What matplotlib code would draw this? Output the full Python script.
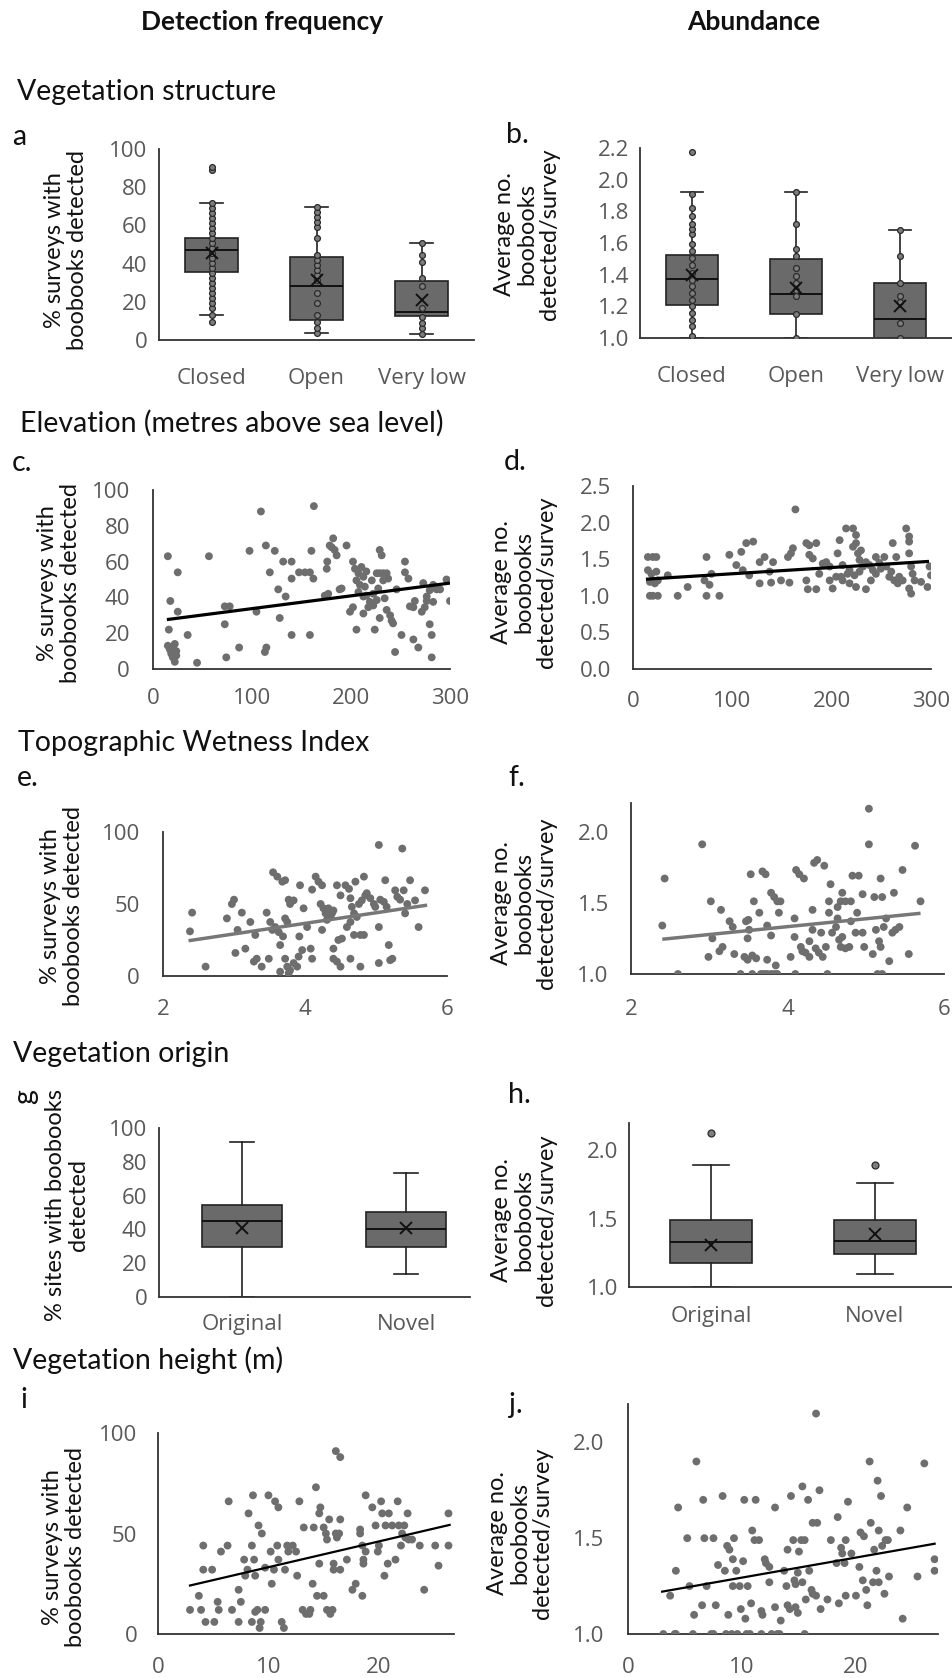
import matplotlib.pyplot as plt
import numpy as np

plt.rcParams['font.family'] = 'Open Sans'

W, H = 952, 1678
BOX_COL = '#6a6a6a'
DOT_COL = '#6e6e6e'
AXIS_COL = '#333333'
TICK_COL = '#595959'
LABEL_FONT = 'Lato'

# ---- a / b : vegetation structure box plots ----
struct_cats = ['Closed', 'Open', 'Very low']
a_q1 = [35.8, 10.5, 12.6]
a_med = [47.0, 28.5, 14.5]
a_q3 = [53.2, 43.6, 31.1]
a_mean = [45.7, 31.4, 20.9]
a_lo = [13.0, 3.5, 3.1]
a_hi = [71.9, 69.8, 50.6]
a_pts_closed = [9.6, 13, 16.6, 19.2, 21.8, 24.4, 27.0, 29.7, 32.3, 34.9, 37.5, 40.1, 42.8,
                45.4, 48.0, 50.6, 53.2, 55.8, 58.5, 61.1, 63.7, 66.3, 68.9, 71.6, 88.8, 90.6]
a_pts_open = [3.5, 6.1, 9.6, 13.1, 19.2, 24.4, 31.4, 34.0, 36.6, 39.3, 41.9, 44.5, 53.2,
              59.3, 61.9, 64.6, 67.2, 69.8]
a_pts_vlow = [3.1, 6.1, 8.7, 12.2, 16.6, 28.3, 32.3, 41.0, 44.5, 50.6]

b_q1 = [1.21, 1.154, 1.0]
b_med = [1.375, 1.28, 1.122]
b_q3 = [1.527, 1.5, 1.348]
b_mean = [1.40, 1.316, 1.2]
b_lo = [1.0, 1.0, 1.0]
b_hi = [1.92, 1.92, 1.685]
b_pts_closed = [1.01, 1.078, 1.116, 1.158, 1.2, 1.242, 1.285, 1.327, 1.369, 1.411, 1.464,
                1.506, 1.548, 1.591, 1.654, 1.69, 1.723, 1.77, 1.823, 1.907, 2.175]
b_pts_open = [1.0, 1.154, 1.263, 1.306, 1.348, 1.394, 1.439, 1.517, 1.565, 1.72, 1.92]
b_pts_vlow = [1.0, 1.095, 1.225, 1.263, 1.348, 1.517, 1.685]

# ---- c / d : elevation ----
c_x = [15, 17.5, 25, 16, 25, 35, 15, 17, 18.5, 20,
       22, 23.5, 20, 22, 18.5, 23.5, 44.5, 56.5, 72.5, 77.5,
       72.5, 74, 87, 97.5, 104.5, 109, 114, 118, 114.5, 113,
       123, 126.5, 128, 131.5, 140, 134, 140, 140, 147.5, 153.5,
       158.5, 160, 162, 158.5, 162.5, 173.5, 177, 175.5, 176, 180.5,
       182, 178.5, 183.5, 185.5, 188.5, 195.5, 199, 202, 204, 207.5,
       205.5, 205.5, 207.5, 209, 212.5, 214, 215.5, 219, 217.5, 222.5,
       226, 224, 226, 229, 232.5, 236, 237.5, 231, 229, 229,
       236, 239.5, 242.5, 241, 244.5, 246, 251, 254.5, 254.5, 258,
       263, 259.5, 264.5, 263, 268, 271.5, 274.5, 276.5, 279.5, 283,
       286.5, 290, 283, 279.5, 281.5, 281.5, 296.5, 300, 273, 276.5,
       210.5, 215.5, 221, 212.5, 222.5, 232.5, 227.5, 202, 212.5, 234, 190.5]
c_y = [63, 38, 54, 22, 32, 19, 13, 11, 9.5, 12,
       14, 10, 6.5, 4, 8.5, 7.5, 3.5, 63, 35, 35,
       25, 6.5, 12, 66, 32, 88, 69, 54, 12, 9.5,
       66, 44.5, 28.5, 60, 60, 40.5, 50.5, 19, 54, 54,
       54, 66, 50.5, 19, 91, 41, 42, 56, 60, 68,
       73, 69, 66.5, 63.5, 44.5, 69, 32, 60, 56, 53.5,
       49.5, 22, 43, 47, 51.5, 46, 41, 37.5, 34.5, 35.5,
       38.5, 22, 53.5, 53.5, 53.5, 53.5, 50.5, 63.5, 66.5, 28.5,
       33, 30, 25.5, 27, 9.5, 44.5, 19, 60, 54, 50.5,
       34.5, 35, 38, 16.5, 12, 32, 34.5, 38, 44, 47,
       44.5, 44.5, 37.5, 25, 19, 6.5, 50, 38, 48, 40.5,
       57, 54.5, 49.5, 40.5, 42, 49.5, 45, 34.5, 31, 39.5, 45]
c_trend_x = [14, 300]
c_trend_y = [27.6, 48.0]

d_x = [15, 20, 23.5, 15, 18.5, 23.5, 17, 22, 25, 17,
       20, 25, 35, 45, 55, 74, 72, 77, 79, 74,
       87, 97, 104, 109, 114, 121, 110.5, 117, 127.5, 132.5,
       127.5, 137.5, 141, 139, 149, 156, 159, 161, 157.5, 163.5,
       174.5, 177.5, 184.5, 177.5, 181, 174.5, 176, 184.5, 187.5, 191,
       194.5, 198, 201, 208, 206, 209.5, 214.5, 221.5, 211, 216,
       218, 221.5, 224.5, 224.5, 226.5, 228, 229.5, 224.5, 234.5, 231.5,
       234.5, 238, 241.5, 239.5, 244.5, 248, 253, 255, 261.5, 265,
       268, 271.5, 275, 278, 278, 278, 280, 281.5, 283.5, 278,
       280, 290, 296.5, 298.5, 300, 211, 218, 223, 228, 244.5,
       249.5, 260, 263, 198, 204.5, 258, 266.5]
d_y = [1.53, 1.53, 1.53, 1.35, 1.30, 1.33, 1.19, 1.17, 1.21, 1.0,
       1.0, 1.0, 1.28, 1.0, 1.12, 1.53, 1.21, 1.15, 1.30, 1.0,
       1.0, 1.56, 1.42, 1.60, 1.72, 1.74, 1.35, 1.28, 1.46, 1.53,
       1.17, 1.33, 1.46, 1.18, 1.21, 1.53, 1.58, 1.65, 1.18, 2.18,
       1.72, 1.69, 1.72, 1.56, 1.51, 1.21, 1.09, 1.09, 1.30, 1.44,
       1.46, 1.40, 1.10, 1.76, 1.58, 1.26, 1.92, 1.92, 1.21, 1.30,
       1.17, 1.67, 1.72, 1.83, 1.58, 1.49, 1.62, 1.12, 1.09, 1.40,
       1.46, 1.42, 1.35, 1.21, 1.53, 1.45, 1.53, 1.40, 1.72, 1.53,
       1.26, 1.21, 1.92, 1.81, 1.74, 1.58, 1.40, 1.30, 1.21, 1.10,
       1.03, 1.19, 1.12, 1.40, 1.28, 1.42, 1.35, 1.28, 1.33, 1.30,
       1.37, 1.33, 1.21, 1.21, 1.26, 1.26, 1.17]
d_trend_x = [13, 298]
d_trend_y = [1.227, 1.47]

# ---- e / f : topographic wetness index ----
e_x = [2.41, 2.38, 2.60, 2.90, 3.00, 2.97, 3.05, 3.02, 3.16, 3.11,
       3.23, 3.30, 3.28, 3.32, 3.39, 3.46, 3.51, 3.49, 3.54, 3.55,
       3.61, 3.68, 3.72, 3.58, 3.63, 3.69, 3.72, 3.75, 3.77, 3.79,
       3.84, 3.65, 3.72, 3.75, 3.79, 3.65, 3.77, 3.84, 3.89, 3.91,
       3.96, 3.92, 3.93, 3.98, 4.03, 4.10, 4.15, 4.19, 4.24, 4.22,
       4.26, 4.29, 4.31, 4.33, 4.38, 4.08, 4.10, 4.24, 4.36, 4.40,
       4.40, 4.40, 4.45, 4.50, 4.47, 4.52, 4.45, 4.50, 4.57, 4.62,
       4.64, 4.66, 4.69, 4.71, 4.83, 4.59, 4.64, 4.69, 4.73, 4.64,
       4.78, 4.76, 4.80, 4.85, 4.87, 4.92, 4.97, 4.99, 4.78, 4.83,
       5.04, 5.04, 5.04, 5.18, 5.23, 5.20, 5.06, 5.11, 5.15, 5.13,
       5.27, 5.30, 5.34, 5.39, 5.41, 5.44, 5.37, 5.48, 5.55, 5.60, 5.69]
e_y = [44, 31, 6.5, 40, 53, 50, 32, 16, 19, 44,
       37.5, 28.5, 10, 12, 6.5, 44, 37.5, 12, 32, 72,
       69, 65.5, 66.5, 34, 30.5, 27.5, 40, 37.5, 53, 50,
       52.5, 21.5, 12, 6.5, 4, 3, 2, 9, 6.5, 13.5,
       18, 27.5, 63, 47, 34, 60, 69, 65.5, 63, 50,
       47, 43.5, 39, 47, 43.5, 19, 12, 32, 41, 45.5,
       19, 12, 10, 6.5, 25, 26, 63, 56, 63, 60.5,
       54, 48, 43.5, 65.5, 69, 34, 37.5, 28.5, 41, 12,
       6.5, 50, 52.5, 56, 57.5, 54, 50, 48, 28.5, 28.5,
       91, 34, 9, 21.5, 12, 11, 53, 51.5, 48, 66.5,
       59.5, 55, 53, 59.5, 43.5, 50, 88.5, 66.5, 52.5, 34, 59.5]
e_trend_x = [2.36, 5.72]
e_trend_y = [24.5, 49.2]

f_x = [2.43, 2.40, 2.60, 2.91, 3.02, 3.15, 2.99, 3.17, 3.13, 3.04,
       3.26, 3.30, 3.32, 3.40, 3.47, 3.50, 3.49, 3.51, 3.53, 3.55,
       3.45, 3.49, 3.55, 3.60, 3.57, 3.64, 3.68, 3.72, 3.66, 3.70,
       3.74, 3.79, 3.83, 3.87, 3.74, 3.85, 3.74, 3.79, 3.79, 3.83,
       3.87, 3.91, 3.89, 4.04, 4.09, 4.09, 4.10, 4.11, 4.15, 4.21,
       4.17, 4.19, 4.23, 4.28, 4.32, 4.28, 4.32, 4.34, 4.38, 4.47,
       4.36, 4.40, 4.45, 4.43, 4.49, 4.51, 4.53, 4.53, 4.55, 4.57,
       4.62, 4.64, 4.66, 4.68, 4.70, 4.74, 4.79, 4.64, 4.68, 4.70,
       4.74, 4.81, 4.83, 4.91, 4.89, 4.96, 4.81, 4.87, 4.96, 4.98,
       5.04, 5.04, 5.09, 5.11, 5.13, 5.17, 5.19, 5.23, 5.21, 5.19,
       5.15, 5.21, 5.30, 5.26, 5.36, 5.34, 5.38, 5.43, 5.47, 5.55, 5.63, 5.70]
f_y = [1.67, 1.34, 1.0, 1.91, 1.51, 1.45, 1.12, 1.19, 1.16, 1.25,
       1.37, 1.33, 1.14, 1.0, 1.37, 1.38, 1.25, 1.31, 1.70, 1.0,
       1.12, 1.10, 1.13, 1.11, 1.51, 1.43, 1.72, 1.70, 1.0, 1.0,
       1.0, 1.0, 1.0, 1.0, 1.10, 1.06, 1.34, 1.27, 1.57, 1.54,
       1.51, 1.51, 1.43, 1.12, 1.39, 1.26, 1.0, 1.73, 1.70, 1.67,
       1.19, 1.16, 1.15, 1.12, 1.31, 1.23, 1.45, 1.78, 1.80, 1.76,
       1.18, 1.15, 1.12, 1.29, 1.19, 1.0, 1.51, 1.43, 1.63, 1.29,
       1.33, 1.39, 1.24, 1.19, 1.26, 1.18, 1.19, 1.47, 1.51, 1.57,
       1.51, 1.51, 1.69, 1.69, 1.43, 1.56, 1.37, 1.29, 1.29, 1.19,
       2.16, 1.91, 1.14, 1.54, 1.31, 1.23, 1.19, 1.33, 1.54, 1.67,
       1.0, 1.0, 1.09, 1.39, 1.57, 1.29, 1.31, 1.33, 1.73, 1.14, 1.90, 1.51]
f_trend_x = [2.40, 5.70]
f_trend_y = [1.244, 1.426]

# ---- g / h : vegetation origin box plots ----
origin_cats = ['Original', 'Novel']
g_q1 = [29.4, 29.8]
g_med = [45.1, 40.2]
g_q3 = [54.4, 50.5]
g_mean = [41.0, 40.6]
g_lo = [0.0, 13.4]
g_hi = [91.9, 73.2]

h_q1 = [1.173, 1.239]
h_med = [1.326, 1.338]
h_q3 = [1.489, 1.489]
h_mean = [1.307, 1.385]
h_lo = [1.0, 1.093]
h_hi = [1.89, 1.761]
h_out = [[2.13], [1.89]]

# ---- i / j : vegetation height ----
i_x = [2.9, 3.7, 3.9, 4.3, 5.1, 4.1, 4.1, 4.9, 5.4, 5.5,
       5.7, 6.3, 6.4, 6.7, 7.3, 7.3, 7.5, 7.8, 7.9, 8.1,
       8.2, 8.5, 8.6, 8.7, 8.8, 8.5, 8.8, 9.0, 9.1, 9.2,
       9.4, 9.3, 9.7, 9.7, 10.0, 10.2, 10.3, 10.5, 10.6, 10.8,
       10.9, 10.9, 11.2, 11.4, 11.5, 11.7, 11.8, 12.2, 12.5, 12.6,
       12.8, 13.1, 13.2, 13.4, 13.7, 13.8, 14.0, 14.1, 14.3, 14.4,
       14.6, 14.6, 14.7, 15.0, 15.0, 15.2, 15.3, 15.3, 15.6, 15.8,
       15.9, 15.9, 15.5, 16.1, 16.2, 16.4, 16.5, 16.5, 16.1, 16.5,
       17.1, 17.6, 17.9, 18.3, 18.3, 18.5, 18.5, 18.6, 18.6, 18.8,
       18.8, 19.4, 19.7, 19.9, 20.0, 20.2, 20.3, 20.5, 20.6, 20.8,
       20.9, 21.2, 21.5, 21.7, 21.8, 22.0, 22.1, 22.3, 22.4, 22.6,
       22.7, 23.0, 23.7, 24.1, 25.1, 25.4, 26.3, 26.3]
i_y = [12, 19, 12, 6, 6, 44, 32, 32, 16, 12,
       41, 44, 66, 12, 22, 6, 16, 37, 29, 32,
       60, 44, 69, 37, 29, 6, 11, 12, 54, 3,
       50, 6, 12, 33, 69, 41, 25, 32, 66, 44,
       63, 37, 6, 3, 32, 44, 41, 44, 41, 29,
       66, 12, 53, 10, 10, 12, 25, 53, 73, 19,
       60, 35, 63, 19, 53, 50, 47, 12, 10, 12,
       35, 32, 57, 50, 48, 50, 32, 57, 91, 88,
       37, 22, 25, 52, 50, 19, 44, 37, 35, 41,
       69, 63, 54, 41, 44, 66, 60, 29, 54, 35,
       60, 54, 37, 66, 54, 44, 50, 54, 48, 60,
       47, 47, 44, 22, 44, 34, 60, 44]
i_trend_x = [2.8, 26.5]
i_trend_y = [24.0, 54.4]

j_x = [3.1, 3.7, 4.1, 4.2, 4.2, 4.4, 5.2, 5.7, 5.8, 5.4,
       6.0, 6.5, 6.6, 6.7, 6.9, 7.3, 7.5, 7.5, 7.7, 7.9,
       8.3, 8.5, 8.6, 8.7, 8.8, 8.9, 9.1, 9.2, 9.2, 9.3,
       9.5, 9.6, 9.8, 9.9, 10.1, 10.2, 10.3, 10.4, 10.5, 10.7,
       10.8, 10.9, 11.1, 11.2, 11.5, 11.7, 11.7, 11.8, 12.0, 12.1,
       12.4, 12.4, 12.6, 12.9, 12.9, 13.1, 13.3, 13.4, 13.7, 13.9,
       14.0, 14.0, 14.2, 14.3, 14.5, 14.6, 14.7, 14.7, 14.9, 14.9,
       15.0, 15.2, 15.3, 15.3, 15.5, 15.5, 15.6, 15.8, 15.9, 16.1,
       16.2, 16.2, 16.5, 16.6, 16.8, 16.9, 16.5, 17.5, 17.8, 18.3,
       18.4, 18.5, 18.7, 18.8, 19.0, 19.1, 19.3, 19.1, 19.6, 20.0,
       20.3, 20.4, 20.6, 20.7, 20.9, 21.0, 21.2, 21.3, 21.5, 21.6,
       21.8, 21.9, 22.0, 22.0, 22.2, 22.3, 22.5, 22.6, 22.8, 22.9,
       23.9, 24.1, 24.5, 25.4, 26.0, 26.9, 26.9]
j_y = [1.0, 1.2, 1.0, 1.0, 1.33, 1.66, 1.5, 1.0, 1.1, 1.25,
       1.9, 1.15, 1.7, 1.5, 1.25, 1.0, 1.5, 1.0, 1.15, 1.36,
       1.72, 1.33, 1.0, 1.46, 1.1, 1.44, 1.0, 1.25, 1.39, 1.5,
       1.33, 1.0, 1.25, 1.13, 1.38, 1.7, 1.08, 1.0, 1.25, 1.0,
       1.16, 1.54, 1.49, 1.7, 1.49, 1.0, 1.12, 1.1, 1.39, 1.37,
       1.35, 1.27, 1.0, 1.14, 1.66, 1.0, 1.0, 1.07, 1.33, 1.25,
       1.15, 1.44, 1.13, 1.72, 1.49, 1.28, 1.26, 1.14, 1.11, 1.32,
       1.43, 1.49, 1.77, 1.27, 1.49, 1.0, 1.18, 1.7, 1.33, 1.23,
       1.21, 1.58, 1.2, 1.58, 1.75, 1.13, 2.15, 1.18, 1.49, 1.37,
       1.61, 1.16, 1.45, 1.42, 1.37, 1.2, 1.69, 1.49, 1.42, 1.2,
       1.35, 1.53, 1.28, 1.51, 1.23, 1.15, 1.9, 1.58, 1.27, 1.44,
       1.33, 1.8, 1.54, 1.27, 1.72, 1.46, 1.21, 1.49, 1.49, 1.3,
       1.54, 1.08, 1.66, 1.3, 1.89, 1.39, 1.33]
j_trend_x = [2.9, 27.0]
j_trend_y = [1.22, 1.472]


fig = plt.figure(figsize=(W / 100, H / 100), dpi=100)


def add_ax(left, top, right, bottom):
    return fig.add_axes([left / W, 1 - bottom / H, (right - left) / W, (bottom - top) / H])


def style(ax, xpad, ypad):
    for s in ['top', 'right']:
        ax.spines[s].set_visible(False)
    for s in ['left', 'bottom']:
        ax.spines[s].set_color(AXIS_COL)
        ax.spines[s].set_linewidth(1.3)
    ax.tick_params(length=0, labelsize=16, labelcolor=TICK_COL)
    ax.tick_params(axis='x', pad=xpad)
    ax.tick_params(axis='y', pad=ypad)


def ftext(x, y, s, **kw):
    kw.setdefault('family', LABEL_FONT)
    kw.setdefault('color', '#111111')
    fig.text(x / W, 1 - y / H, s, **kw)


def ylabel(x, y, s):
    ftext(x, y, s, rotation=90, ha='center', va='center', fontsize=17,
          multialignment='center', linespacing=1.1)


def boxes(ax, q1, med, q3, mean, lo, hi, width, capw):
    stats = [dict(q1=q1[k], med=med[k], q3=q3[k], mean=mean[k], whislo=lo[k],
                  whishi=hi[k], fliers=[]) for k in range(len(q1))]
    ax.bxp(stats, positions=np.arange(1, len(q1) + 1), widths=width, showmeans=True,
           patch_artist=True, showfliers=False, capwidths=capw,
           boxprops=dict(facecolor=BOX_COL, edgecolor='#222222', linewidth=1.2),
           medianprops=dict(color='#111111', linewidth=1.4),
           whiskerprops=dict(color='#222222', linewidth=1.2),
           capprops=dict(color='#222222', linewidth=1.2),
           meanprops=dict(marker='x', markeredgecolor='#111111', markersize=9,
                          markeredgewidth=1.4, zorder=5))


def inner_points(ax, groups, ms=4.2):
    for k, vals in enumerate(groups):
        ax.plot(np.full(len(vals), k + 1.0), vals, 'o', ms=ms, mfc='#7d7d7d',
                mec='#2a2a2a', mew=0.9, zorder=4)


def scatter(ax, x, y, tx, ty, tcol, tlw):
    ax.scatter(x, y, s=32, color=DOT_COL, edgecolors='none', zorder=3)
    ax.plot(tx, ty, color=tcol, lw=tlw, solid_capstyle='butt', zorder=4)


# ---------------- panel a ----------------
ax = add_ax(159, 149, 474, 340)
boxes(ax, a_q1, a_med, a_q3, a_mean, a_lo, a_hi, 0.5, 0.22)
inner_points(ax, [a_pts_closed, a_pts_open, a_pts_vlow])
ax.set_xlim(0.5, 3.5)
ax.set_ylim(0, 100)
ax.set_yticks([0, 20, 40, 60, 80, 100])
ax.set_xticks([1, 2, 3])
ax.set_xticklabels(struct_cats)
style(ax, 20, 8.5)

# ---------------- panel b ----------------
ax = add_ax(640, 148, 952, 338)
boxes(ax, b_q1, b_med, b_q3, b_mean, b_lo, b_hi, 0.5, 0.22)
inner_points(ax, [b_pts_closed, b_pts_open, b_pts_vlow])
ax.set_xlim(0.5, 3.5)
ax.set_ylim(1.0, 2.2)
ax.set_yticks(np.arange(1.0, 2.21, 0.2))
ax.set_yticklabels([f'{v:.1f}' for v in np.arange(1.0, 2.21, 0.2)])
ax.set_xticks([1, 2, 3])
ax.set_xticklabels(struct_cats)
style(ax, 20, 8)

# ---------------- panel c ----------------
ax = add_ax(153, 490, 450, 669)
scatter(ax, c_x, c_y, c_trend_x, c_trend_y, '#000000', 2.3)
ax.set_xlim(0, 300)
ax.set_ylim(0, 100)
ax.set_xticks([0, 100, 200, 300])
ax.set_yticks([0, 20, 40, 60, 80, 100])
style(ax, 14, 16.5)

# ---------------- panel d ----------------
ax = add_ax(633, 486, 931, 669)
scatter(ax, d_x, d_y, d_trend_x, d_trend_y, '#000000', 2.3)
ax.set_xlim(0, 300)
ax.set_ylim(0, 2.5)
ax.set_xticks([0, 100, 200, 300])
ax.set_yticks(np.arange(0, 2.51, 0.5))
ax.set_yticklabels([f'{v:.1f}' for v in np.arange(0, 2.51, 0.5)])
style(ax, 16, 16)

# ---------------- panel e ----------------
ax = add_ax(163, 832, 447, 976)
scatter(ax, e_x, e_y, e_trend_x, e_trend_y, '#777777', 2.5)
ax.set_xlim(2, 6)
ax.set_ylim(0, 100)
ax.set_xticks([2, 4, 6])
ax.set_yticks([0, 50, 100])
style(ax, 16.5, 16.5)

# ---------------- panel f ----------------
ax = add_ax(631, 803, 944, 974)
scatter(ax, f_x, f_y, f_trend_x, f_trend_y, '#777777', 2.5)
ax.set_xlim(2, 6)
ax.set_ylim(1.0, 2.2)
ax.set_xticks([2, 4, 6])
ax.set_yticks([1.0, 1.5, 2.0])
ax.set_yticklabels(['1.0', '1.5', '2.0'])
style(ax, 18, 16)

# ---------------- panel g ----------------
ax = add_ax(159, 1128, 470, 1297)
boxes(ax, g_q1, g_med, g_q3, g_mean, g_lo, g_hi, 0.49, 0.15)
ax.set_xlim(0.494, 2.39)
ax.set_ylim(0, 100)
ax.set_yticks([0, 20, 40, 60, 80, 100])
ax.set_xticks([1, 2])
ax.set_xticklabels(origin_cats)
style(ax, 12, 8.5)

# ---------------- panel h ----------------
ax = add_ax(629, 1123, 952, 1287)
boxes(ax, h_q1, h_med, h_q3, h_mean, h_lo, h_hi, 0.5, 0.22)
for k, vals in enumerate(h_out):
    ax.plot(np.full(len(vals), k + 1.0), vals, 'o', ms=5, mfc='#7d7d7d',
            mec='#2a2a2a', mew=0.9, zorder=4)
ax.set_xlim(0.5, 2.47)
ax.set_ylim(1.0, 2.2)
ax.set_yticks([1.0, 1.5, 2.0])
ax.set_yticklabels(['1.0', '1.5', '2.0'])
ax.set_xticks([1, 2])
ax.set_xticklabels(origin_cats)
style(ax, 14, 8)

# ---------------- panel i ----------------
ax = add_ax(158, 1433, 454, 1634)
scatter(ax, i_x, i_y, i_trend_x, i_trend_y, '#000000', 1.6)
ax.set_xlim(0, 26.8)
ax.set_ylim(0, 100)
ax.set_xticks([0, 10, 20])
ax.set_yticks([0, 50, 100])
style(ax, 16.5, 15)

# ---------------- panel j ----------------
ax = add_ax(628, 1404, 938, 1634)
scatter(ax, j_x, j_y, j_trend_x, j_trend_y, '#000000', 1.6)
ax.set_xlim(0, 27.2)
ax.set_ylim(1.0, 2.2)
ax.set_xticks([0, 10, 20])
ax.set_yticks([1.0, 1.5, 2.0])
ax.set_yticklabels(['1.0', '1.5', '2.0'])
style(ax, 16.5, 17)

# ---------------- texts ----------------
ftext(262, 22, 'Detection frequency', ha='center', va='center', fontsize=19, weight='bold')
ftext(754, 22, 'Abundance', ha='center', va='center', fontsize=19, weight='bold')

heads = [(17, 92, 'Vegetation structure'), (20, 423, 'Elevation (metres above sea level)'),
         (18, 743, 'Topographic Wetness Index'), (13, 1054, 'Vegetation origin'),
         (13, 1360, 'Vegetation height (m)')]
for x, y, s in heads:
    ftext(x, y, s, ha='left', va='center', fontsize=20.5)

letters = [(12, 137, 'a'), (506, 135, 'b.'), (12, 463, 'c.'), (504, 462, 'd.'),
           (17, 778, 'e.'), (508, 778, 'f.'), (508, 1095, 'h.'), (20, 1400, 'i'),
           (509, 1405, 'j.')]
for x, y, s in letters:
    ftext(x, y, s, ha='left', va='center', fontsize=20.5)
ftext(25, 1097, 'g', ha='center', va='center', fontsize=20.5, rotation=90)

two = '% surveys with\nboobooks detected'
three = 'Average no.\nboobooks\ndetected/survey'
ylabel(66, 250, two)
ylabel(527, 234, three)
ylabel(59, 583, two)
ylabel(524, 582, three)
ylabel(62, 906, two)
ylabel(524, 903, three)
ylabel(67, 1205, '% sites with boobooks\ndetected')
ylabel(524, 1220, three)
ylabel(64, 1547, two)
ylabel(520, 1533, three)

fig.savefig('out.png', dpi=100)
